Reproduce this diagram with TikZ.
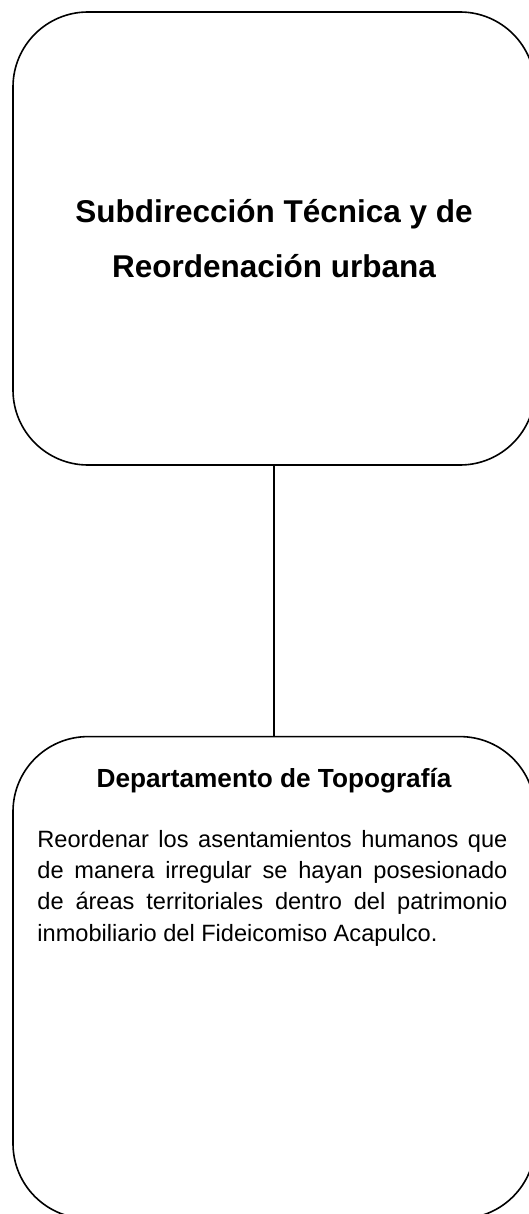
\documentclass[tikz,border=0pt]{standalone}
\usepackage{fontspec}
\setmainfont{Liberation Sans}
\usetikzlibrary{positioning}
\tikzstyle{box} = [draw,rounded corners=75pt,line width=1.6pt,minimum width=522pt,inner sep=0pt]
\tikzstyle{headtext} = [font=\bfseries\fontsize{31.5}{55}\selectfont,align=center]
\tikzstyle{depttext} = [font=\bfseries\fontsize{26.2}{30}\selectfont,inner sep=0pt]
\tikzstyle{bodytext} = [font=\fontsize{23.6}{31.3}\selectfont,text width=470pt,align=justify,inner sep=0pt]

\begin{document}
\begin{tikzpicture}[x=1pt,y=1pt]
	\useasboundingbox (0,0) rectangle (528,-1214);

	\node[box,minimum height=453pt,headtext](sub) at (274,-238.5) {Subdirección Técnica y de\\Reordenación urbana};
	\node[box,minimum height=482pt,below=270pt of sub](dept) {};

	\node[depttext,anchor=base](depttitle) at ([yshift=-52pt]dept.north) {Departamento de Topografía};
	\node[bodytext,anchor=north west](deptbody) at ([xshift=25pt,yshift=-94pt]dept.north west) {\hyphenpenalty=10000 Reordenar los asentamientos humanos que\linebreak de manera irregular se hayan posesionado\linebreak de áreas territoriales dentro del patrimonio\linebreak inmobiliario del Fideicomiso Acapulco.};

	\draw[line width=1.6pt] (sub.south) -- (dept.north);

\end{tikzpicture}
\end{document}
